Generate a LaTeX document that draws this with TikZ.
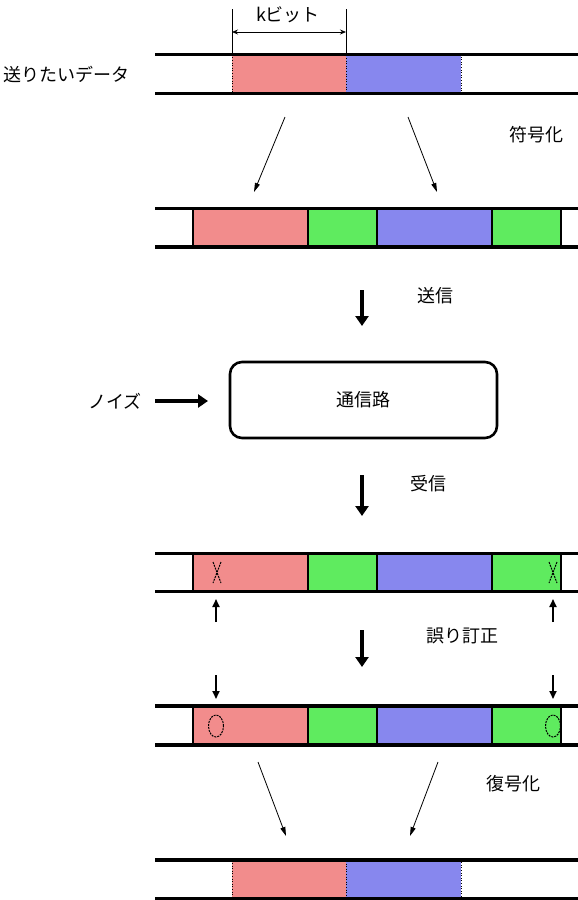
\documentclass[tikz,border=0pt]{standalone}
\usepackage{fontspec}
\setmainfont{Noto Sans CJK JP}
\usetikzlibrary{arrows.meta}
\definecolor{redc}{RGB}{242,140,140}
\definecolor{greenc}{RGB}{95,235,95}
\definecolor{bluec}{RGB}{135,135,238}
\begin{document}
\begin{tikzpicture}[x=1pt,y=-1pt,
  rail/.style={line width=3.5pt},
  blk/.style={draw=black, line width=1.6pt, inner sep=0pt, minimum height=39pt},
  blkthin/.style={draw=black, line width=0.6pt, dotted, inner sep=0pt, minimum height=39pt},
  lbl/.style={font=\fontsize{18}{18}\selectfont, inner sep=0pt},
  bigarrow/.style={line width=4pt, -{Triangle[width=13pt,length=10pt]}},
  smallarrow/.style={line width=1.8pt, -{Triangle[width=7pt,length=8pt]}},
  thinarrow/.style={line width=0.8pt, -{Triangle[width=5pt,length=9pt]}},
  errmark/.style={line width=1pt, dashed, dash pattern=on 2pt off 1pt},
]
\useasboundingbox (0,0) rectangle (578,900);

% ---------- Row 1 ----------
\node[blkthin, fill=redc, minimum width=114pt] (r1a) at (289,73.5) {};
\node[blkthin, fill=bluec, minimum width=115pt] (r1b) at (403.5,73.5) {};
\draw[rail] (155,54.5) -- (578,54.5);
\draw[rail] (155,93.5) -- (578,93.5);
\node[lbl, anchor=west] (send) at (3,74) {送りたいデータ};
% dimension
\coordinate (dl) at (232,32);
\coordinate (dr) at (346,32);
\draw[line width=0.6pt] (232,9) -- (232,54);
\draw[line width=0.6pt] (346,9) -- (346,54);
\draw[line width=0.8pt, {Stealth[length=6pt,width=5pt]}-{Stealth[length=6pt,width=5pt]}] (dl) -- (dr);
\node[lbl] (kbit) at (288,15) {kビット};

% encode arrows
\coordinate (e1s) at (285,117);
\coordinate (e1e) at (254,192);
\coordinate (e2s) at (408,117);
\coordinate (e2e) at (437,192);
\draw[thinarrow] (e1s) -- (e1e);
\draw[thinarrow] (e2s) -- (e2e);
\node[lbl] (enc) at (536,135) {符号化};

% ---------- Row 2 ----------
\node[blk, fill=redc, minimum width=115pt] (r2a) at (250.5,227.5) {};
\node[blk, fill=greenc, minimum width=69pt] (r2b) at (342.5,227.5) {};
\node[blk, fill=bluec, minimum width=115pt] (r2c) at (434.5,227.5) {};
\node[blk, fill=greenc, minimum width=69pt] (r2d) at (526.5,227.5) {};
\draw[rail] (155,208.5) -- (578,208.5);
\draw[rail] (155,247) -- (578,247);

% send
\coordinate (s1) at (362,290);
\coordinate (s2) at (362,326);
\draw[bigarrow] (s1) -- (s2);
\node[lbl] (sendlbl) at (435,296) {送信};

% ---------- Channel ----------
\node[draw, line width=2.6pt, rounded corners=12pt, minimum width=267pt, minimum height=76pt, inner sep=0pt, font=\fontsize{18}{18}\selectfont] (ch) at (363.5,400) {通信路};
\node[lbl] (noise) at (115,401) {ノイズ};
\coordinate (n1) at (155,401);
\coordinate (n2) at (208,401);
\draw[bigarrow] (n1) -- (n2);

% receive
\coordinate (q1) at (362,475);
\coordinate (q2) at (362,516);
\draw[bigarrow] (q1) -- (q2);
\node[lbl] (recv) at (428,484) {受信};

% ---------- Row 3 ----------
\node[blk, fill=redc, minimum width=115pt] (r3a) at (250.5,572.5) {};
\node[blk, fill=greenc, minimum width=69pt] (r3b) at (342.5,572.5) {};
\node[blk, fill=bluec, minimum width=115pt] (r3c) at (434.5,572.5) {};
\node[blk, fill=greenc, minimum width=69pt] (r3d) at (526.5,572.5) {};
\draw[rail] (155,553.5) -- (578,553.5);
\draw[rail] (155,591.5) -- (578,591.5);
\draw[errmark] (213,562) -- (221,583) (221,562) -- (213,583);
\draw[errmark] (549,562) -- (557,583) (557,562) -- (549,583);
\coordinate (u1s) at (216,622);
\coordinate (u1e) at (216,599);
\coordinate (u2s) at (553,622);
\coordinate (u2e) at (553,599);
\draw[smallarrow] (u1s) -- (u1e);
\draw[smallarrow] (u2s) -- (u2e);

% correct
\coordinate (c1) at (362,630);
\coordinate (c2) at (362,667);
\draw[bigarrow] (c1) -- (c2);
\node[lbl] (corr) at (462,636) {誤り訂正};

% ---------- Row 4 ----------
\coordinate (d1s) at (216,675);
\coordinate (d1e) at (216,699);
\coordinate (d2s) at (553,675);
\coordinate (d2e) at (553,699);
\draw[smallarrow] (d1s) -- (d1e);
\draw[smallarrow] (d2s) -- (d2e);
\node[blk, fill=redc, minimum width=115pt] (r4a) at (250.5,725.5) {};
\node[blk, fill=greenc, minimum width=69pt] (r4b) at (342.5,725.5) {};
\node[blk, fill=bluec, minimum width=115pt] (r4c) at (434.5,725.5) {};
\node[blk, fill=greenc, minimum width=69pt] (r4d) at (526.5,725.5) {};
\draw[rail] (155,706) -- (578,706);
\draw[rail] (155,745) -- (578,745);
\draw[errmark] (216,726) ellipse [x radius=7.5pt, y radius=11pt];
\draw[errmark] (553,726) ellipse [x radius=7.5pt, y radius=11pt];

% decode arrows
\coordinate (f1s) at (258,762);
\coordinate (f1e) at (286,836);
\coordinate (f2s) at (438,762);
\coordinate (f2e) at (410,836);
\draw[thinarrow] (f1s) -- (f1e);
\draw[thinarrow] (f2s) -- (f2e);
\node[lbl] (dec) at (513,784) {復号化};

% ---------- Row 5 ----------
\node[blkthin, fill=redc, minimum width=114pt] (r5a) at (289,879) {};
\node[blkthin, fill=bluec, minimum width=115pt] (r5b) at (403.5,879) {};
\draw[rail] (155,860) -- (578,860);
\draw[rail] (155,898.5) -- (578,898.5);
\end{tikzpicture}
\end{document}
